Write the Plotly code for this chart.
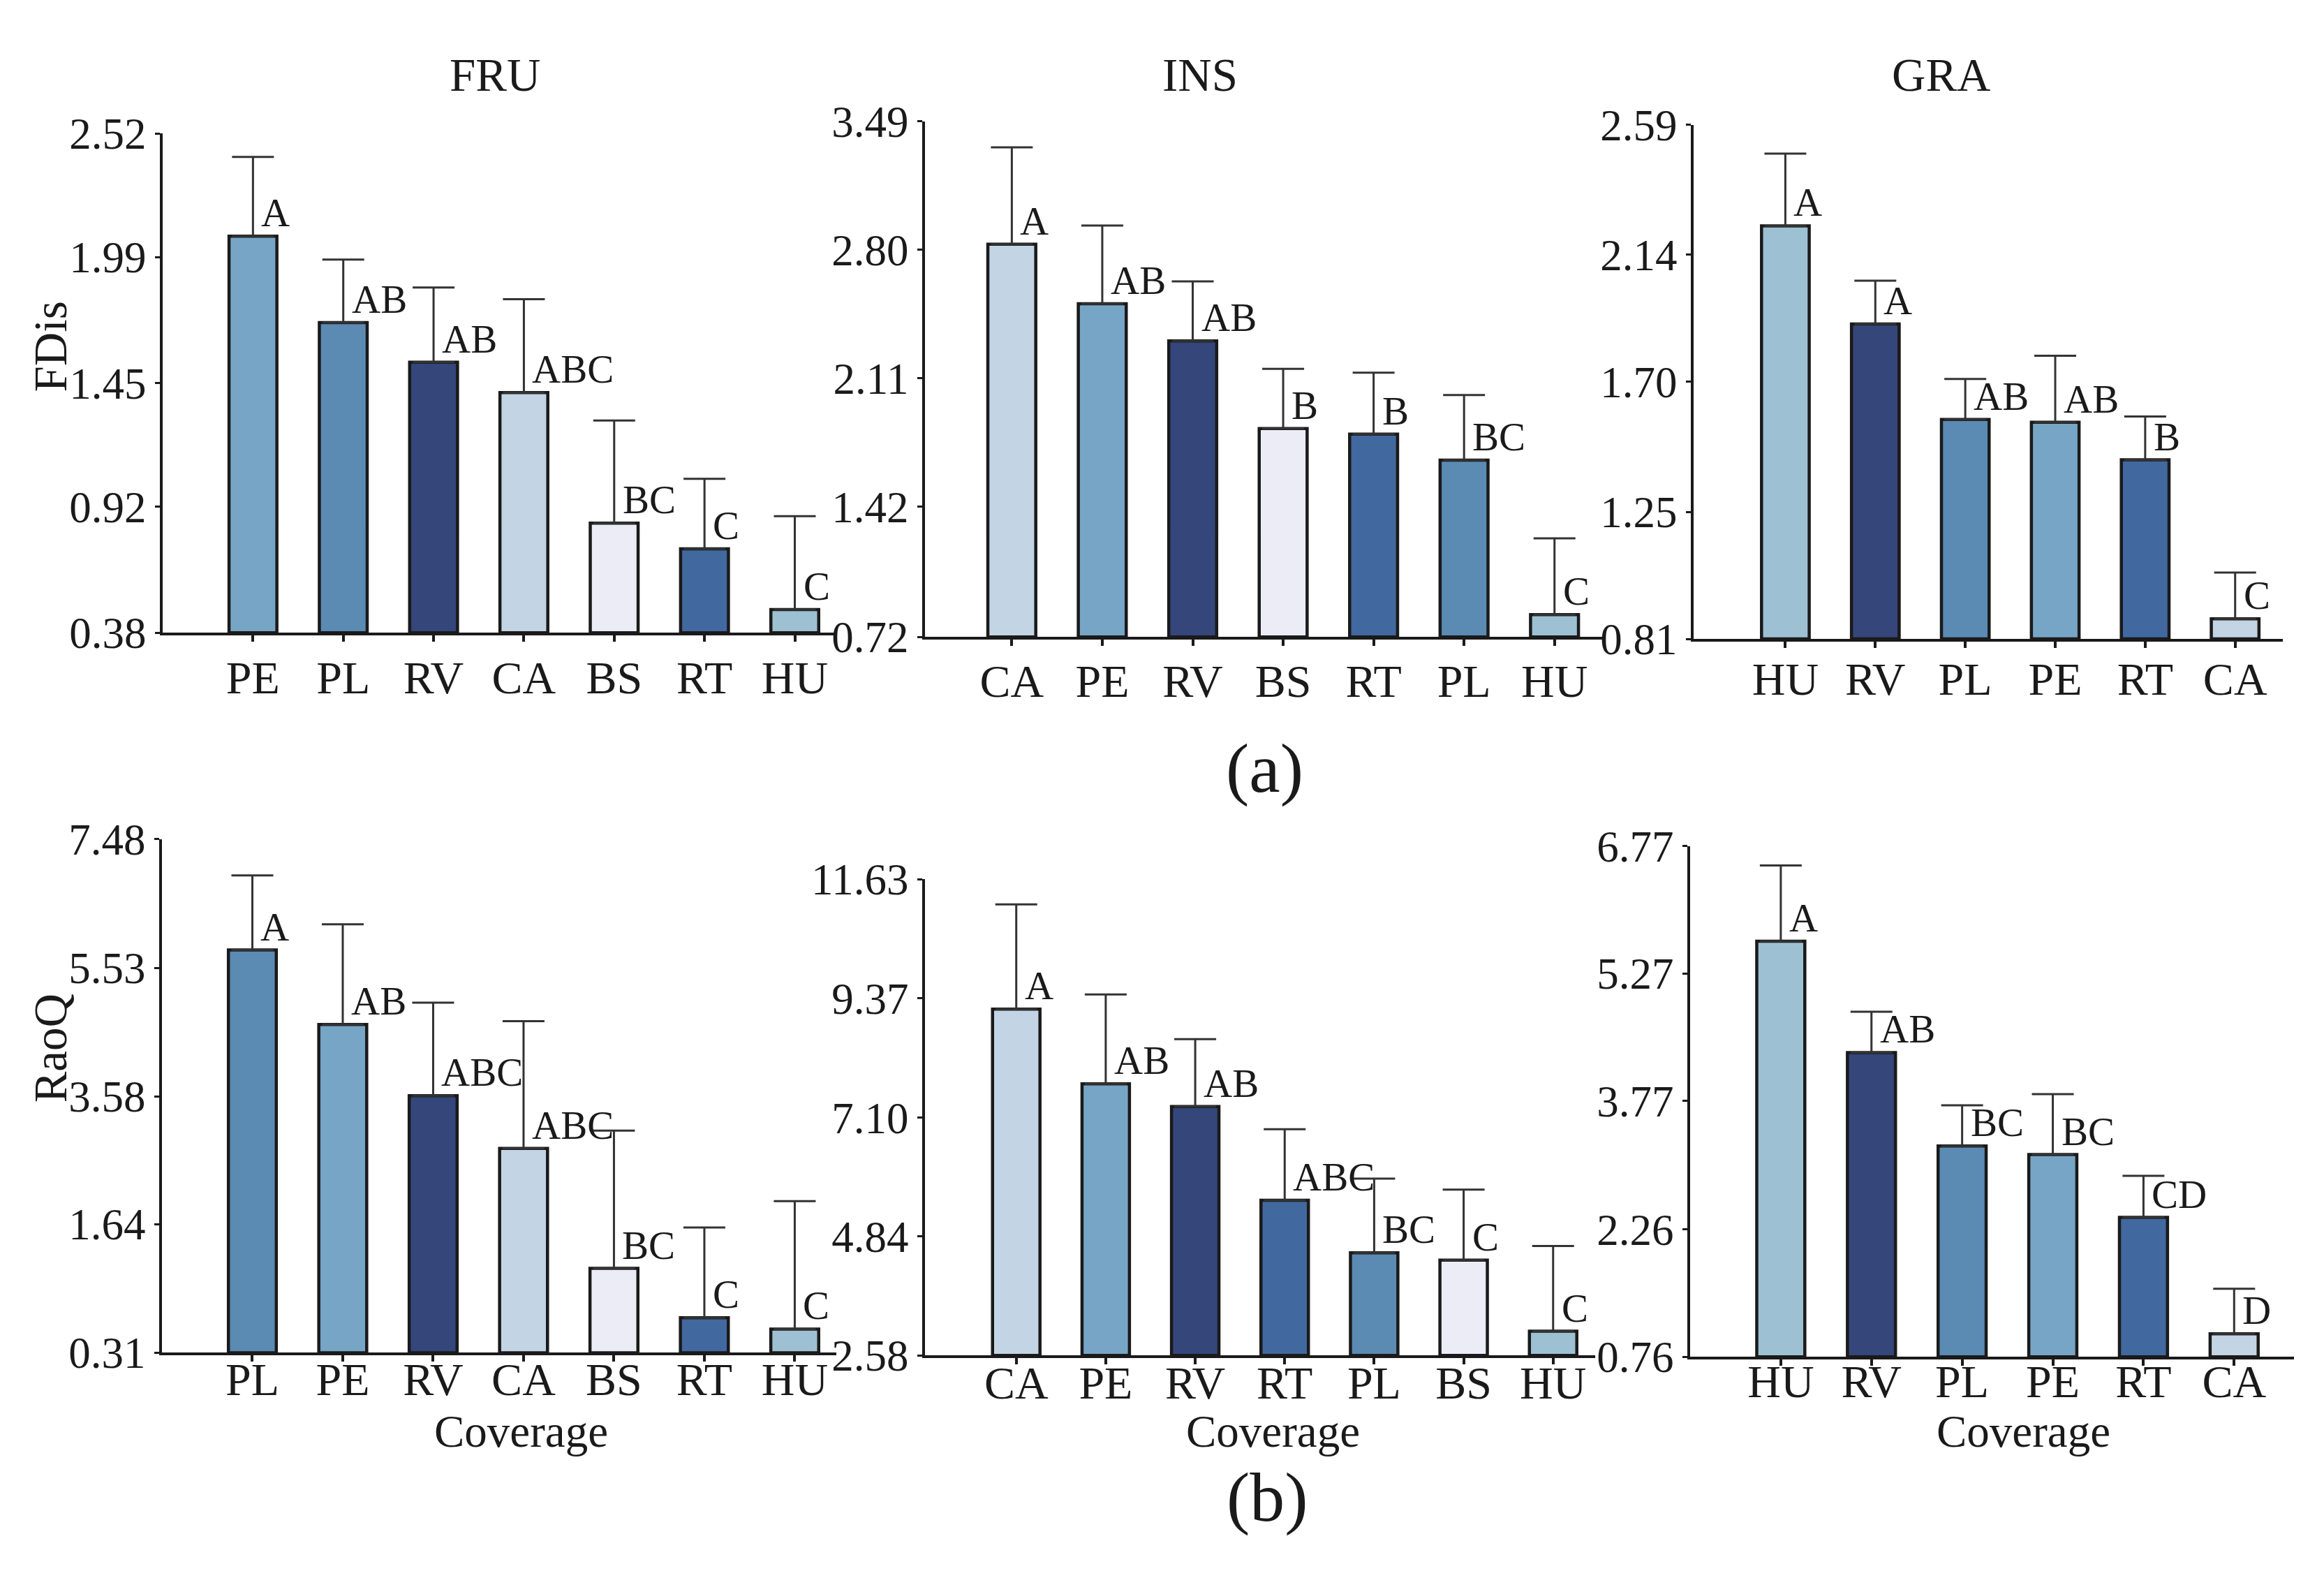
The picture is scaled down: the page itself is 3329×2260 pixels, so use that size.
import plotly.graph_objects as go

W, H = 3329, 2260
OFF = 8  # default body margin of the page
FONT = "Liberation Serif"
INK = "#1a1a1a"

colors = {"PE": "#77a5c6", "PL": "#5b8ab3", "RV": "#34467a", "CA": "#c3d4e4",
          "BS": "#ececf6", "RT": "#41699f", "HU": "#9dc1d3"}

# (a) FDis
fru_fdis_cats = ["PE", "PL", "RV", "CA", "BS", "RT", "HU"]
fru_fdis_mean = [2.08, 1.71, 1.54, 1.41, 0.85, 0.74, 0.48]
fru_fdis_err = [0.34, 0.27, 0.32, 0.40, 0.44, 0.30, 0.40]
fru_fdis_let = ["A", "AB", "AB", "ABC", "BC", "C", "C"]
fru_fdis_ticks = [0.38, 0.92, 1.45, 1.99, 2.52]
fru_fdis_ticktext = ["0.38", "0.92", "1.45", "1.99", "2.52"]

ins_fdis_cats = ["CA", "PE", "RV", "BS", "RT", "PL", "HU"]
ins_fdis_mean = [2.83, 2.51, 2.31, 1.84, 1.81, 1.67, 0.84]
ins_fdis_err = [0.52, 0.42, 0.32, 0.32, 0.33, 0.35, 0.41]
ins_fdis_let = ["A", "AB", "AB", "B", "B", "BC", "C"]
ins_fdis_ticks = [0.72, 1.42, 2.11, 2.80, 3.49]
ins_fdis_ticktext = ["0.72", "1.42", "2.11", "2.80", "3.49"]

gra_fdis_cats = ["HU", "RV", "PL", "PE", "RT", "CA"]
gra_fdis_mean = [2.24, 1.90, 1.57, 1.56, 1.43, 0.88]
gra_fdis_err = [0.25, 0.15, 0.14, 0.23, 0.15, 0.16]
gra_fdis_let = ["A", "A", "AB", "AB", "B", "C"]
gra_fdis_ticks = [0.81, 1.25, 1.70, 2.14, 2.59]
gra_fdis_ticktext = ["0.81", "1.25", "1.70", "2.14", "2.59"]

# (b) RaoQ
fru_rao_cats = ["PL", "PE", "RV", "CA", "BS", "RT", "HU"]
fru_rao_mean = [5.80, 4.67, 3.59, 2.79, 0.97, 0.22, 0.05]
fru_rao_err = [1.13, 1.52, 1.41, 1.93, 2.09, 1.37, 1.94]
fru_rao_let = ["A", "AB", "ABC", "ABC", "BC", "C", "C"]
fru_rao_ticks = [-0.31, 1.64, 3.58, 5.53, 7.48]
fru_rao_ticktext = ["0.31", "1.64", "3.58", "5.53", "7.48"]

ins_rao_cats = ["CA", "PE", "RV", "RT", "PL", "BS", "HU"]
ins_rao_mean = [9.16, 7.74, 7.31, 5.53, 4.53, 4.39, 3.04]
ins_rao_err = [1.99, 1.70, 1.28, 1.35, 1.41, 1.34, 1.62]
ins_rao_let = ["A", "AB", "AB", "ABC", "BC", "C", "C"]
ins_rao_ticks = [2.58, 4.84, 7.10, 9.37, 11.63]
ins_rao_ticktext = ["2.58", "4.84", "7.10", "9.37", "11.63"]

gra_rao_cats = ["HU", "RV", "PL", "PE", "RT", "CA"]
gra_rao_mean = [5.65, 4.34, 3.24, 3.14, 2.40, 1.03]
gra_rao_err = [0.89, 0.48, 0.48, 0.71, 0.49, 0.53]
gra_rao_let = ["A", "AB", "BC", "BC", "CD", "D"]
gra_rao_ticks = [0.76, 2.26, 3.77, 5.27, 6.77]
gra_rao_ticktext = ["0.76", "2.26", "3.77", "5.27", "6.77"]

# pixel boxes of each plot area: (left, right, top, bottom), x range, label standoff
panels = [
    (fru_fdis_cats, fru_fdis_mean, fru_fdis_err, fru_fdis_let, fru_fdis_ticks, fru_fdis_ticktext,
     (233, 1198, 162, 900), [-1, 6.46], -6),
    (ins_fdis_cats, ins_fdis_mean, ins_fdis_err, ins_fdis_let, ins_fdis_ticks, ins_fdis_ticktext,
     (1325, 2298, 144, 906), [-0.96, 6.55], -6),
    (gra_fdis_cats, gra_fdis_mean, gra_fdis_err, gra_fdis_let, gra_fdis_ticks, gra_fdis_ticktext,
     (2426, 3270, 149, 909), [-1.02, 5.53], -12),
    (fru_rao_cats, fru_rao_mean, fru_rao_err, fru_rao_let, fru_rao_ticks, fru_rao_ticktext,
     (232, 1198, 1205, 1964), [-1, 6.46], -32),
    (ins_rao_cats, ins_rao_mean, ins_rao_err, ins_rao_let, ins_rao_ticks, ins_rao_ticktext,
     (1325, 2285, 1264, 1968), [-1.02, 6.47], -30),
    (gra_rao_cats, gra_rao_mean, gra_rao_err, gra_rao_let, gra_rao_ticks, gra_rao_ticktext,
     (2421, 3286, 1215, 1970), [-1, 5.66], -34),
]

fig = go.Figure()
annotations = []

for k, (cats, mean, err, lets, ticks, ticktext, box, xr, standoff) in enumerate(panels):
    n = "" if k == 0 else str(k + 1)
    lo, hi = ticks[0], ticks[-1]
    left, right, top, bottom = [v - OFF for v in box]
    fig.add_trace(go.Bar(
        x=cats, y=[m - lo for m in mean], base=lo,
        width=0.53,
        marker=dict(color=[colors[c] for c in cats], line=dict(color=INK, width=4.5)),
        error_y=dict(type="data", array=err, symmetric=False, arrayminus=[0] * len(err),
                     color="#333333", thickness=3, width=30),
        xaxis="x" + n, yaxis="y" + n, showlegend=False, hoverinfo="skip",
    ))
    fig.layout["xaxis" + n] = dict(
        domain=[left / W, right / W], anchor="y" + n, type="category",
        range=xr, showline=True, linewidth=4, linecolor=INK, showgrid=False,
        ticks="outside", ticklen=9, tickwidth=4, tickcolor=INK,
        tickfont=dict(family=FONT, size=66, color=INK), ticklabelstandoff=standoff,
    )
    fig.layout["yaxis" + n] = dict(
        domain=[1 - bottom / H, 1 - top / H], anchor="x" + n,
        range=[lo, hi], tickvals=ticks, ticktext=ticktext,
        showline=True, linewidth=4, linecolor=INK, showgrid=False, zeroline=False,
        ticks="outside", ticklen=7, tickwidth=3, tickcolor=INK,
        tickfont=dict(family=FONT, size=63, color=INK),
    )
    for c, m, l in zip(cats, mean, lets):
        annotations.append(dict(
            x=c, y=m, xref="x" + n, yref="y" + n, text=l, showarrow=False,
            xanchor="left", yanchor="bottom", xshift=10, yshift=0,
            font=dict(family=FONT, size=57, color=INK),
        ))

def label(text, x, y, size, angle=0):
    annotations.append(dict(
        x=(x - OFF) / W, y=1 - (y - OFF) / H, xref="paper", yref="paper", text=text,
        showarrow=False, xanchor="center", yanchor="middle", textangle=angle,
        font=dict(family=FONT, size=size, color=INK),
    ))

label("FRU", 709, 75, 67)
label("INS", 1719, 75, 67)
label("GRA", 2780, 75, 67)
label("FDis", 72, 477, 67, -90)
label("RaoQ", 72, 1514, 67, -90)
label("Coverage", 746, 2080, 65)
label("Coverage", 1823, 2080, 65)
label("Coverage", 2898, 2080, 65)
label("(a)", 1811, 1100, 100)
label("(b)", 1815, 2178, 100)

fig.update_layout(
    width=W, height=H, autosize=False,
    margin=dict(l=0, r=0, t=0, b=0),
    paper_bgcolor="white", plot_bgcolor="white",
    annotations=annotations, showlegend=False,
)

fig.write_html("out.html")
